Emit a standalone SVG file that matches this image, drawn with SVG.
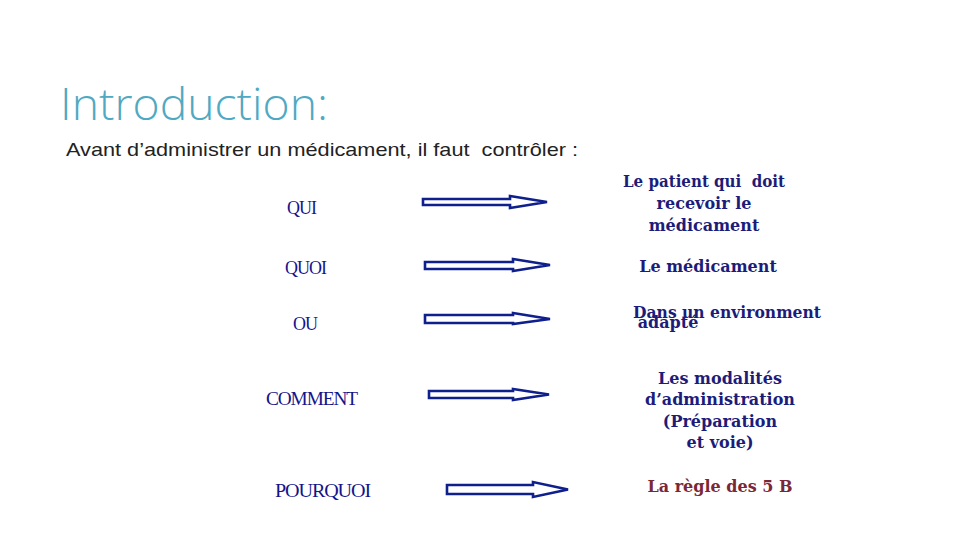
<svg xmlns="http://www.w3.org/2000/svg" width="960" height="540" viewBox="0 0 960 540">
<style>
.title{font-family:"Open Sans","Noto Sans",sans-serif;font-weight:300;font-size:44px;fill:#4fa9c2}
.sub{font-family:"Liberation Sans",Arial,sans-serif;font-size:19px;fill:#222}
.q{font-family:"Liberation Serif","Times New Roman",serif;font-size:18px;fill:#14148a;letter-spacing:-1px}
.a{font-family:"DejaVu Serif","Liberation Serif",serif;font-weight:bold;font-size:16px;fill:#1c1c7a;text-anchor:middle}
.arr{fill:#fff;stroke:#0f1f8c;stroke-width:2.6;stroke-linejoin:miter}
</style>
<rect width="960" height="540" fill="#fff"/>
<text class="title" x="60" y="120" textLength="268" lengthAdjust="spacingAndGlyphs">Introduction:</text>
<text class="sub" x="66" y="156" xml:space="preserve" textLength="512" lengthAdjust="spacingAndGlyphs">Avant d’administrer un médicament, il faut  contrôler :</text>
<g id="n-qui"><text class="q" x="287" y="214">QUI</text></g>
<g id="n-quoi"><text class="q" x="285" y="274">QUOI</text></g>
<g id="n-ou"><text class="q" x="293" y="330">OU</text></g>
<g id="n-comment"><text class="q" x="266" y="405" textLength="91" lengthAdjust="spacingAndGlyphs">COMMENT</text></g>
<g id="n-pourquoi"><text class="q" x="275" y="497" textLength="95" lengthAdjust="spacingAndGlyphs">POURQUOI</text></g>
<g id="connectors">
<path class="arr" d="M423,199 H510 V196 L547,202 L510,208 V205 H423 Z"/>
<path class="arr" d="M425,262 H513 V259 L550,265 L513,271 V269 H425 Z"/>
<path class="arr" d="M425,315 H513 V313 L550,319 L513,324 V323 H425 Z"/>
<path class="arr" d="M429,391 H513 V389 L549,394.5 L513,400 V398 H429 Z"/>
<path class="arr" d="M447,485 H533 V482 L568,489.5 L533,497 V494 H447 Z"/>
</g>
<g id="r-qui"><text class="a" xml:space="preserve" x="704" y="187" textLength="162" lengthAdjust="spacingAndGlyphs">Le patient qui  doit</text><text class="a"><tspan x="704" y="209">recevoir le</tspan><tspan x="704" y="231">médicament</tspan></text></g>
<g id="r-quoi"><text class="a" x="708" y="272">Le médicament</text></g>
<g id="r-ou"><text class="a" x="727" y="318" textLength="188" lengthAdjust="spacingAndGlyphs">Dans un environment</text><text class="a" x="668" y="328">adapté</text></g>
<g id="r-comment"><text class="a"><tspan x="720" y="384">Les modalités</tspan><tspan x="720" y="405">d’administration</tspan><tspan x="720" y="427">(Préparation</tspan><tspan x="720" y="448">et voie)</tspan></text></g>
<g id="r-pourquoi"><text class="a" x="720" y="492" style="fill:#7a2838">La règle des 5 B</text></g>
</svg>
